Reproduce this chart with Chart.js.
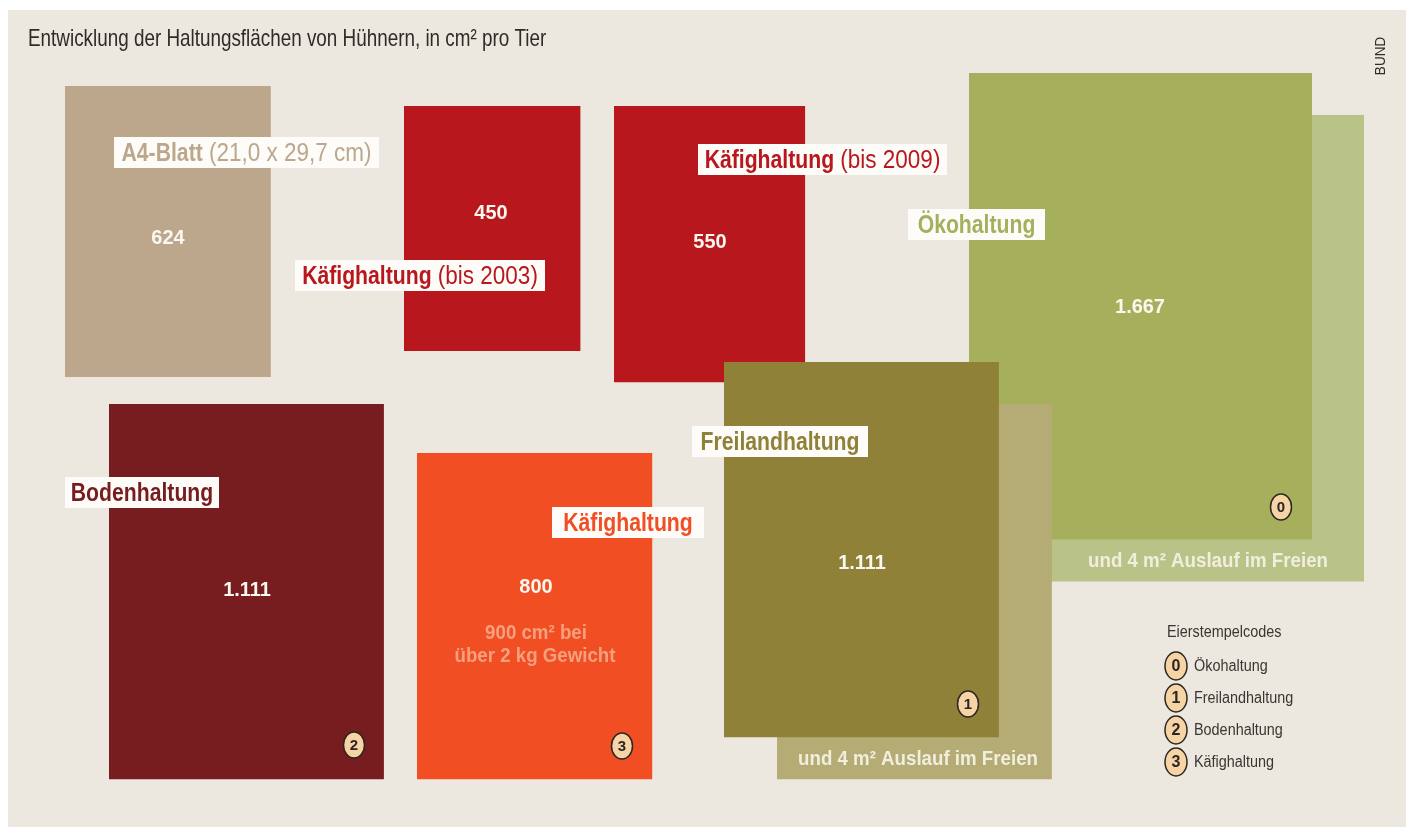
<!DOCTYPE html>
<html lang="de">
<head>
<meta charset="utf-8">
<title>Haltungsflächen von Hühnern</title>
<script src="https://cdn.jsdelivr.net/npm/chart.js@4"></script>
<style>
  html, body { margin: 0; padding: 0; background: #fff; }
  canvas { display: block; }
</style>
</head>
<body>
<canvas id="chart" width="1413" height="834"></canvas>
<script>
// Werte aus der Grafik: Fläche pro Tier und Seitenlängen in cm
const names = ['Ökohaltung Auslauf', 'Ökohaltung', 'A4-Blatt', 'Käfighaltung (bis 2003)', 'Käfighaltung (bis 2009)', 'Bodenhaltung', 'Käfighaltung', 'Freilandhaltung Auslauf', 'Freilandhaltung'];
const areas = ['', '1.667', '624', '450', '550', '1.111', '800', '', '1.111'];
const widthsCm = [35, 35, 21, 18, 19.5, 28.05, 24, 28.05, 28.05];
const heightsCm = [47.6, 47.6, 29.7, 25, 28.2, 38.3, 33.3, 38.3, 38.3];

// Platzierung auf der Achse (Einheiten = Bildpunkte der Vorlage)
const lefts = [1021, 969, 65, 404, 614, 109, 417, 777, 724];
const tops = [115, 73, 86, 106, 106, 404, 453, 404, 362];
const colors = ['#b9c287', '#a6b05c', '#bca78d', '#b8181d', '#b8181d', '#781d1f', '#f24e24', '#b5ab75', '#8f8238'];
const unitsPerCm = 9.8;

const valueSpots = [null, [1140, 307], [168, 238], [491, 213], [710, 242], [247, 590], [536, 587], null, [862, 563]];

const FONT = '"Liberation Sans", sans-serif';

const tagLabels = [
  { box: [114, 137, 379, 168], bold: 'A4-Blatt', rest: ' (21,0 x 29,7 cm)', color: '#bca78d' },
  { box: [295, 260, 545, 291], bold: 'Käfighaltung', rest: ' (bis 2003)', color: '#b8181d' },
  { box: [698, 144, 947, 175], bold: 'Käfighaltung', rest: ' (bis 2009)', color: '#b8181d' },
  { box: [908, 209, 1045, 240], bold: 'Ökohaltung', rest: '', color: '#a6b05c' },
  { box: [65, 477, 219, 508], bold: 'Bodenhaltung', rest: '', color: '#781d1f' },
  { box: [552, 507, 704, 538], bold: 'Käfighaltung', rest: '', color: '#f24e24' },
  { box: [692, 426, 868, 457], bold: 'Freilandhaltung', rest: '', color: '#8f8238' }
];

const notes = [
  { text: '900 cm² bei', x: 536, y: 633, color: '#f6a07d' },
  { text: 'über 2 kg Gewicht', x: 535, y: 656, color: '#f6a07d' },
  { text: 'und 4 m² Auslauf im Freien', x: 1208, y: 561, color: '#f1eede' },
  { text: 'und 4 m² Auslauf im Freien', x: 918, y: 759, color: '#f1eede' }
];

const stampCodes = ['0', '1', '2', '3'];
const stampNames = ['Ökohaltung', 'Freilandhaltung', 'Bodenhaltung', 'Käfighaltung'];
const stampSpots = [[1281, 507], [968, 704], [354, 745], [622, 746]];
const legendY = [666, 698, 730, 762];

function rectPoints(i) {
  const r = lefts[i] + widthsCm[i] * unitsPerCm;
  const b = tops[i] + heightsCm[i] * unitsPerCm;
  return [
    { x: lefts[i], y: tops[i] },
    { x: r, y: tops[i] },
    { x: r, y: b },
    { x: lefts[i], y: b },
    { x: lefts[i], y: tops[i] }
  ];
}

const datasets = names.map((name, i) => ({
  label: name,
  data: rectPoints(i),
  showLine: true,
  fill: 'shape',
  backgroundColor: colors[i],
  borderWidth: 0,
  pointRadius: 0,
  tension: 0,
  order: names.length - i
}));

// Hintergrundfläche als unterste Ebene
datasets.unshift({
  label: 'Fläche',
  data: [{ x: 8, y: 10 }, { x: 1406, y: 10 }, { x: 1406, y: 827 }, { x: 8, y: 827 }, { x: 8, y: 10 }],
  showLine: true,
  fill: 'shape',
  backgroundColor: '#ece8df',
  borderWidth: 0,
  pointRadius: 0,
  order: names.length + 1
});

// die Vorlage ist schmal gesetzt, darum Text waagerecht stauchen
function put(ctx, text, x, y, squeeze) {
  ctx.fillText(text, x, y, ctx.measureText(text).width * squeeze);
}

function drawStamp(ctx, x, y, code, rx, ry, size) {
  ctx.beginPath();
  ctx.ellipse(x, y, rx, ry, 0, 0, Math.PI * 2);
  ctx.fillStyle = '#f6d4a6';
  ctx.fill();
  ctx.lineWidth = 1.5;
  ctx.strokeStyle = '#2b2622';
  ctx.stroke();
  ctx.fillStyle = '#2b2622';
  ctx.font = 'bold ' + size + 'px ' + FONT;
  ctx.textAlign = 'center';
  ctx.fillText(code, x, y + 1);
}

const textPlugin = {
  id: 'textLayer',
  afterDatasetsDraw(chart) {
    const ctx = chart.ctx;
    const sx = chart.scales.x;
    const sy = chart.scales.y;
    const px = v => sx.getPixelForValue(v);
    const py = v => sy.getPixelForValue(v);
    ctx.save();
    ctx.textBaseline = 'middle';

    // Überschrift
    ctx.textAlign = 'left';
    ctx.fillStyle = '#2f2b28';
    ctx.font = '24px ' + FONT;
    put(ctx, 'Entwicklung der Haltungsflächen von Hühnern, in cm² pro Tier', px(28), py(39), 0.786);

    ctx.save();
    ctx.translate(px(1381), py(56));
    ctx.rotate(-Math.PI / 2);
    ctx.textAlign = 'center';
    ctx.font = '15px ' + FONT;
    put(ctx, 'BUND', 0, 0, 0.9);
    ctx.restore();

    // Werte in den Flächen
    ctx.textAlign = 'center';
    ctx.fillStyle = '#fbf8f0';
    ctx.font = 'bold 21px ' + FONT;
    areas.forEach((a, i) => {
      if (valueSpots[i]) put(ctx, a, px(valueSpots[i][0]), py(valueSpots[i][1]), 0.95);
    });

    notes.forEach(n => {
      ctx.fillStyle = n.color;
      put(ctx, n.text, px(n.x), py(n.y), 0.89);
    });

    // Beschriftung mit weißem Kasten
    const squeezeBold = 0.815;
    const squeezeRest = 0.865;
    tagLabels.forEach(l => {
      const [x0, y0, x1, y1] = l.box;
      ctx.fillStyle = '#fdfcf9';
      ctx.fillRect(px(x0), py(y0), px(x1) - px(x0), py(y1) - py(y0));
      ctx.fillStyle = l.color;
      ctx.textAlign = 'left';
      ctx.font = 'bold 26px ' + FONT;
      const wBold = ctx.measureText(l.bold).width * squeezeBold;
      ctx.font = '26px ' + FONT;
      const wRest = ctx.measureText(l.rest).width * squeezeRest;
      const x = (px(x0) + px(x1) - wBold - wRest) / 2;
      const y = (py(y0) + py(y1)) / 2 + 1;
      ctx.font = 'bold 26px ' + FONT;
      put(ctx, l.bold, x, y, squeezeBold);
      if (l.rest) {
        ctx.font = '26px ' + FONT;
        put(ctx, l.rest, x + wBold, y, squeezeRest);
      }
    });

    // Eierstempel
    stampCodes.forEach((c, i) => {
      drawStamp(ctx, px(stampSpots[i][0]), py(stampSpots[i][1]), c, 10.5, 13, 15);
      drawStamp(ctx, px(1176), py(legendY[i]), c, 11, 14, 16);
      ctx.textAlign = 'left';
      ctx.fillStyle = '#3a3633';
      ctx.font = '16px ' + FONT;
      put(ctx, stampNames[i], px(1194), py(legendY[i] + 1), 0.9);
    });
    put(ctx, 'Eierstempelcodes', px(1167), py(633), 0.9);
    ctx.restore();
  }
};

new Chart(document.getElementById('chart'), {
  type: 'scatter',
  data: { datasets: datasets },
  plugins: [textPlugin],
  options: {
    responsive: false,
    animation: false,
    layout: { padding: 0 },
    plugins: { legend: { display: false }, tooltip: { enabled: false } },
    scales: {
      x: { type: 'linear', min: 0, max: 1413, display: false },
      y: { type: 'linear', min: 0, max: 834, reverse: true, display: false }
    }
  }
});
</script>
</body>
</html>
